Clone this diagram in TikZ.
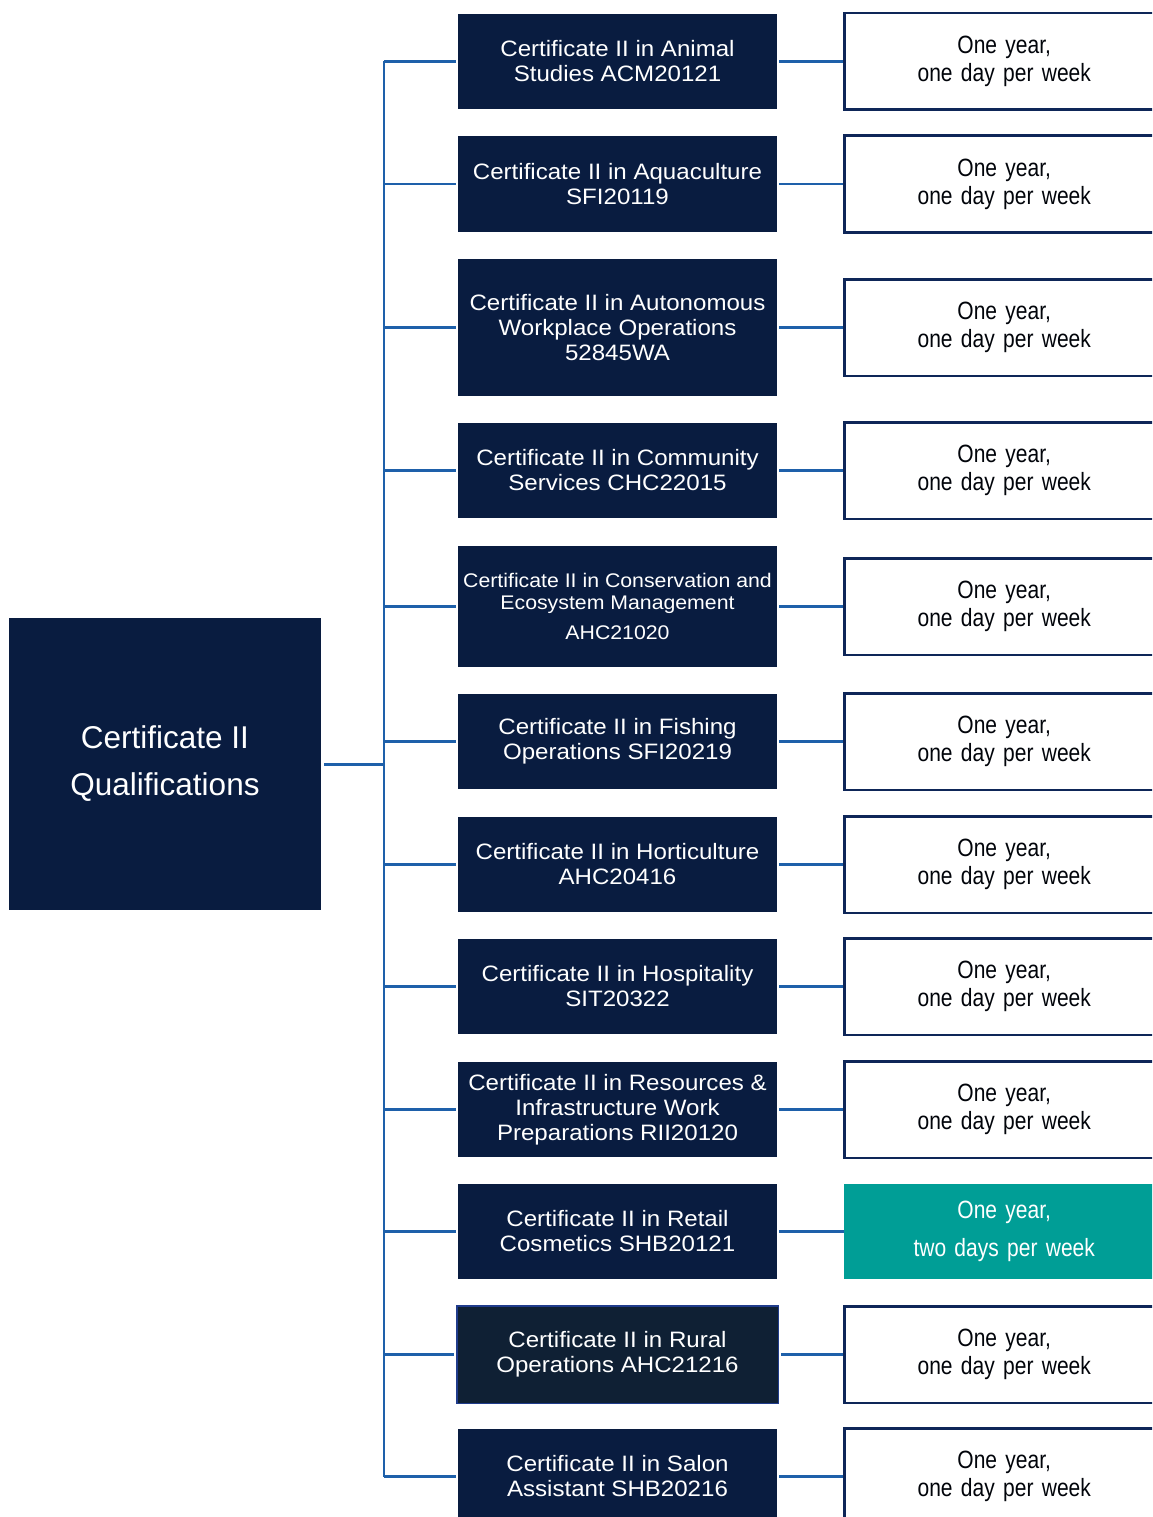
\documentclass[tikz,border=0pt]{standalone}
\usepackage{fontspec}
\setmainfont{Liberation Sans}
\newfontfamily\midfont[FakeStretch=1.08]{Liberation Sans}
\newfontfamily\durfont[FakeStretch=0.84]{Liberation Sans}
\definecolor{navy}{RGB}{9,28,64}
\definecolor{navyB}{RGB}{15,32,52}
\definecolor{rimblue}{RGB}{32,60,140}
\definecolor{boxrim}{RGB}{14,38,88}
\definecolor{linkblue}{RGB}{30,96,170}
\definecolor{teal}{RGB}{0,158,150}
\tikzset{
  rootbox/.style={fill=navy, draw=none, inner sep=0pt, minimum width=312pt, minimum height=292pt,
    text=white, align=center, font={\fontsize{31.5}{47}\selectfont}},
  midbox/.style={fill=navy, draw=none, inner sep=0pt, minimum width=319pt,
    text=white, align=center, font={\midfont\fontsize{22.3}{25}\selectfont}},
  durbox/.style={fill=white, draw=boxrim, line width=2.5pt, inner sep=0pt, minimum width=320pt,
    minimum height=96.5pt, anchor=west, text=black!85!navy, align=center,
    font={\durfont\fontsize{25}{28}\selectfont}, text width=310pt},
  tealbox/.style={fill=teal, draw=none, inner sep=0pt, minimum width=320pt, minimum height=95pt,
    anchor=west, text=white, align=center, font={\durfont\fontsize{25}{38}\selectfont}, text width=310pt},
  link/.style={draw=linkblue, line width=2.4pt},
  trunk/.style={draw=linkblue, line width=2.4pt}
}
\begin{document}
\begin{tikzpicture}[x=1pt,y=-1pt]
\useasboundingbox (0,0) rectangle (1152,1517);
\clip (0,0) rectangle (1152,1517);
% root
\node[rootbox] (root) at (165,764) {Certificate II\\Qualifications};
% middle boxes
\node[midbox, minimum height=95pt]  (m1)  at (617.5,61.5)  {Certificate II in Animal\\Studies ACM20121};
\node[midbox, minimum height=96pt]  (m2)  at (617.5,184)   {Certificate II in Aquaculture\\SFI20119};
\node[midbox, minimum height=137pt] (m3)  at (617.5,327.5) {Certificate II in Autonomous\\Workplace Operations\\52845WA};
\node[midbox, minimum height=95pt]  (m4)  at (617.5,470.5) {Certificate II in Community\\Services CHC22015};
\node[midbox, minimum height=121pt, font={\midfont\fontsize{19.7}{22}\selectfont}] (m5) at (617.5,606.5)
  {Certificate II in Conservation and\\Ecosystem Management\\[8pt]AHC21020};
\node[midbox, minimum height=95pt]  (m6)  at (617.5,741.5)  {Certificate II in Fishing\\Operations SFI20219};
\node[midbox, minimum height=95pt]  (m7)  at (617.5,864.5)  {Certificate II in Horticulture\\AHC20416};
\node[midbox, minimum height=95pt]  (m8)  at (617.5,986.5)  {Certificate II in Hospitality\\SIT20322};
\node[midbox, minimum height=95pt]  (m9)  at (617.5,1109.5) {Certificate II in Resources \&\\Infrastructure Work\\Preparations RII20120};
\node[midbox, minimum height=95pt]  (m10) at (617.5,1231.5) {Certificate II in Retail\\Cosmetics SHB20121};
\node[midbox, fill=navyB, draw=rimblue, line width=1.5pt, minimum width=321.5pt, minimum height=97.5pt] (m11) at (617.5,1354.5) {Certificate II in Rural\\Operations AHC21216};
\node[midbox, minimum height=95pt]  (m12) at (617.5,1476.5) {Certificate II in Salon\\Assistant SHB20216};
% duration boxes
\node[durbox] (r1)  at (843,61.5)   {One year,\\one day per week};
\node[durbox] (r2)  at (843,184)    {One year,\\one day per week};
\node[durbox] (r3)  at (843,327.5)  {One year,\\one day per week};
\node[durbox] (r4)  at (843,470.5)  {One year,\\one day per week};
\node[durbox] (r5)  at (843,606.5)  {One year,\\one day per week};
\node[durbox] (r6)  at (843,741.5)  {One year,\\one day per week};
\node[durbox] (r7)  at (843,864.5)  {One year,\\one day per week};
\node[durbox] (r8)  at (843,986.5)  {One year,\\one day per week};
\node[durbox] (r9)  at (843,1109.5) {One year,\\one day per week};
\node[tealbox] (r10) at (844,1231.5) {One year,\\two days per week};
\node[durbox] (r11) at (843,1354.5) {One year,\\one day per week};
\node[durbox] (r12) at (843,1476.5) {One year,\\one day per week};
% trunk
\coordinate (ttop) at (384,61.5);
\coordinate (tbot) at (384,1476.5);
\draw[trunk] (ttop) -- (tbot);
\draw[link, line width=3pt] ([xshift=3pt]root.east) -- (root.east -| ttop);
\foreach \i in {1,...,12}{
  \draw[link] (ttop |- m\i.west) -- ([xshift=-2pt]m\i.west);
  \draw[link] ([xshift=2pt]m\i.east) -- (r\i.west);
}
\end{tikzpicture}
\end{document}
